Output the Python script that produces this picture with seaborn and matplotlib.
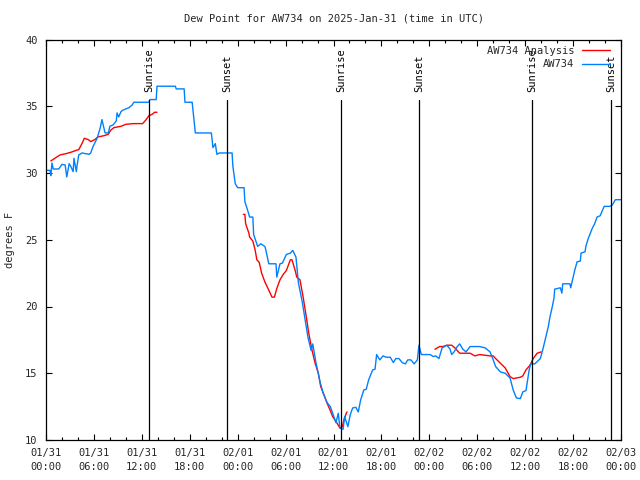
import matplotlib
matplotlib.use('Agg')
import matplotlib.pyplot as plt
import matplotlib.dates as mdates
import numpy as np
import pandas as pd
import seaborn as sns

# hours after 2025-01-31 00:00 UTC, dew point in F
obs_hours = [0.0, 0.5, 0.6, 0.75, 0.9, 1.6, 2.0, 2.4, 2.6, 2.9, 3.1, 3.4, 3.5, 3.8, 3.9, 4.1,
             4.5, 5.4, 5.6, 5.9, 6.4, 6.8, 7.0, 7.4, 7.8, 8.0, 8.4, 8.8, 8.9, 9.1, 9.4, 9.6,
             10.4, 10.8, 11.0, 12.9, 13.0, 13.8, 13.9, 16.2, 16.3, 17.3, 17.4, 18.3, 18.7, 20.7,
             20.8, 20.9, 21.2, 21.4, 21.7, 23.3, 23.4, 23.7, 24.0, 24.8, 24.9, 25.2, 25.5, 25.9,
             26.0, 26.5, 26.9, 27.4, 27.5, 27.9, 28.8, 28.9, 29.3, 29.6, 30.1, 30.6, 30.9, 31.3,
             31.6, 32.1, 32.4, 32.8, 33.2, 33.4, 33.8, 34.3, 34.7, 35.2, 35.6, 35.9, 36.3, 36.6,
             36.8, 37.2, 37.4, 37.8, 38.1, 38.4, 38.8, 39.1, 39.4, 39.8, 40.1, 40.4, 40.9, 41.2,
             41.4, 41.8, 42.2, 42.6, 43.1, 43.5, 43.8, 44.2, 44.6, 45.0, 45.3, 45.7, 46.1, 46.5,
             46.7, 47.0, 47.3, 48.1, 48.5, 48.8, 49.2, 49.6, 50.2, 50.6, 50.8, 51.1, 51.5, 51.8,
             52.2, 52.6, 53.1, 54.3, 55.0, 55.6, 56.0, 56.3, 56.9, 57.5, 58.1, 58.5, 58.9, 59.4,
             59.7, 60.1, 60.5, 60.7, 61.2, 61.9, 62.2, 62.5, 62.9, 63.1, 63.4, 63.6, 63.7, 64.4,
             64.6, 64.7, 65.6, 65.7, 66.0, 66.2, 66.5, 66.9, 67.0, 67.5, 67.6, 67.9, 68.1, 68.4,
             68.7, 69.0, 69.4, 69.6, 69.9, 70.6, 70.9, 71.3, 72.0]
obs_dewpt = [30.2, 30.2, 29.8, 30.75, 30.3, 30.3, 30.65, 30.6, 29.7, 30.7, 30.5, 30.1, 31.1, 30.1, 30.6, 31.35,
             31.5, 31.4, 31.5, 32.0, 32.6, 33.4, 34.0, 33.0, 33.0, 33.5, 33.6, 33.9, 34.5, 34.2, 34.6, 34.7,
             34.9, 35.1, 35.3, 35.3, 35.5, 35.5, 36.5, 36.5, 36.3, 36.3, 35.3, 35.3, 33.0, 33.0,
             32.5, 31.9, 32.2, 31.4, 31.5, 31.5, 30.5, 29.2, 28.9, 28.9, 27.85, 27.3, 26.7, 26.7,
             25.4, 24.5, 24.7, 24.5, 24.3, 23.2, 23.2, 22.2, 23.2, 23.25, 23.9, 24.0, 24.2, 23.7,
             21.8, 20.3, 19.2, 17.7, 16.7, 17.2, 15.8, 14.4, 13.5, 12.8, 12.5, 12.0, 11.3, 12.0,
             10.9, 10.8, 11.75, 11.0, 11.9, 12.4, 12.45, 12.1, 13.0, 13.75, 13.8, 14.5, 15.25, 15.3,
             16.4, 16.0, 16.3, 16.2, 16.2, 15.8, 16.1, 16.1, 15.8, 15.7, 16.0, 16.0, 15.7, 16.0,
             17.1, 16.4, 16.4, 16.4, 16.25, 16.3, 16.1, 16.9, 17.1, 16.8, 16.4, 16.6, 17.0, 17.2,
             16.8, 16.6, 17.0, 17.0, 16.9, 16.6, 16.0, 15.5, 15.1, 15.0, 14.65, 13.75, 13.15, 13.1,
             13.6, 13.7, 15.25, 15.7, 15.7, 16.1, 16.75, 17.5, 18.5, 19.2, 20.0, 20.6, 21.3, 21.4,
             21.0, 21.7, 21.7, 21.4, 22.2, 22.7, 23.35, 23.4, 24.0, 24.1, 24.5, 25.1, 25.4, 25.85,
             26.2, 26.7, 26.8, 27.1, 27.5, 27.5, 27.6, 28.0, 28.0]

# analysis comes in three pieces
ana_hours = [[0.6, 1.1, 1.75, 2.5, 3.1, 3.8, 4.1, 4.5, 4.8, 5.3, 5.6, 6.1, 6.5, 7.3, 7.8, 8.1,
              8.5, 9.4, 10.0, 11.0, 12.1, 12.5, 12.9, 13.3, 13.6, 13.9],
             [24.7, 24.9, 25.0, 25.4, 25.5, 25.9, 26.2, 26.4, 26.7, 27.0, 27.4, 27.8, 28.3, 28.6,
              28.9, 29.3, 29.7, 30.1, 30.6, 30.8, 31.2, 31.4, 31.8, 32.2, 32.6, 32.9, 33.3, 33.7,
              34.1, 34.4, 34.8, 35.2, 35.6, 35.9, 36.4, 36.8, 37.1, 37.3, 37.6, 37.7],
             [48.7, 49.3, 49.7, 50.2, 50.8, 51.2, 51.8, 53.1, 53.7, 54.3, 55.6, 56.0, 56.3, 56.9,
              57.5, 58.1, 58.5, 59.4, 59.7, 60.1, 60.6, 61.0, 61.5, 62.0]]
ana_dewpt = [[30.9, 31.1, 31.35, 31.45, 31.55, 31.7, 31.75, 32.2, 32.6, 32.5, 32.35, 32.5, 32.7, 32.8, 32.9, 33.2,
              33.4, 33.5, 33.65, 33.7, 33.7, 33.97, 34.3, 34.4, 34.55, 34.55],
             [26.9, 26.9, 26.2, 25.5, 25.2, 24.9, 24.2, 23.5, 23.3, 22.5, 21.85, 21.35, 20.7, 20.7,
              21.35, 22.0, 22.4, 22.7, 23.5, 23.5, 22.7, 22.2, 22.0, 20.7, 19.2, 18.0, 16.75, 15.75,
              15.0, 14.0, 13.4, 12.75, 12.2, 11.75, 11.3, 10.9, 11.0, 11.5, 12.0, 12.1],
             [16.8, 17.0, 17.0, 17.1, 17.1, 16.9, 16.5, 16.5, 16.3, 16.4, 16.3, 16.3, 16.1, 15.75,
              15.4, 14.75, 14.6, 14.7, 14.8, 15.25, 15.6, 16.1, 16.5, 16.6]]

sun_hours = [12.93, 22.7, 36.98, 46.75, 60.9, 70.8]
sun_labels = ['Sunrise', 'Sunset', 'Sunrise', 'Sunset', 'Sunrise', 'Sunset']

start = pd.Timestamp('2025-01-31 00:00')


def to_time(hours):
  return start + pd.to_timedelta(np.array(hours), unit='h')


frames = []
for i, (h, v) in enumerate(zip(ana_hours, ana_dewpt)):
  frames.append(pd.DataFrame({'time': to_time(h), 'dewpt': v, 'series': 'AW734 Analysis', 'seg': i}))
frames.append(pd.DataFrame({'time': to_time(obs_hours), 'dewpt': obs_dewpt, 'series': 'AW734', 'seg': 10}))
df = pd.concat(frames, ignore_index=True)

sns.set_style('ticks')
plt.rcParams['font.family'] = ['DejaVu Sans Mono']
plt.rcParams['font.size'] = 7

fig = plt.figure(figsize=(6.4, 4.8), dpi=100)
ax = fig.add_axes([46 / 640, 40 / 480, 575 / 640, 400.5 / 480])

sns.lineplot(data=df, x='time', y='dewpt', hue='series', units='seg', estimator=None, sort=False,
             palette={'AW734 Analysis': '#ff0000', 'AW734': '#0080ff'}, linewidth=1.0, ax=ax)

for t, lab in zip(sun_hours, sun_labels):
  tt = start + pd.Timedelta(hours=t)
  ax.axvline(tt, ymin=0, ymax=0.85, color='black', lw=0.9)
  ax.text(tt, 0.87, lab, transform=ax.get_xaxis_transform(), rotation=90,
          ha='center', va='bottom', fontsize=7.5, color='black')

ax.set_xlim(start, start + pd.Timedelta(hours=72))
ax.set_ylim(10, 40)
ax.set_yticks([10, 15, 20, 25, 30, 35, 40])
ax.xaxis.set_major_locator(mdates.HourLocator(byhour=[0, 6, 12, 18]))
ax.xaxis.set_minor_locator(mdates.HourLocator(byhour=range(0, 24, 2)))
ax.xaxis.set_major_formatter(mdates.DateFormatter('%m/%d\n%H:%M'))
ax.tick_params(which='both', direction='in', top=True, right=True, color='black', width=0.8)
ax.tick_params(which='major', length=4, labelsize=7.5)
ax.tick_params(axis='x', which='major', pad=6)
ax.tick_params(axis='y', which='major', pad=6)
ax.tick_params(which='minor', length=2.2)
for lbl in ax.get_xticklabels():
  lbl.set_linespacing(1.45)
for s in ax.spines.values():
  s.set_visible(True)
  s.set_color('black')
  s.set_linewidth(0.9)

ax.set_xlabel('')
ax.set_ylabel('degrees F', fontsize=7.5, labelpad=7)
ax.set_title('Dew Point for AW734 on 2025-Jan-31 (time in UTC)', fontsize=7.5, pad=13)

leg = ax.legend(loc='upper right', bbox_to_anchor=(0.988, 0.995), frameon=False, markerfirst=False,
                fontsize=7.5, handlelength=2.7, handletextpad=0.7, labelspacing=0.35,
                borderaxespad=0.0)
for t in leg.get_texts():
  t.set_ha('right')

fig.savefig('out.png', dpi=100)
